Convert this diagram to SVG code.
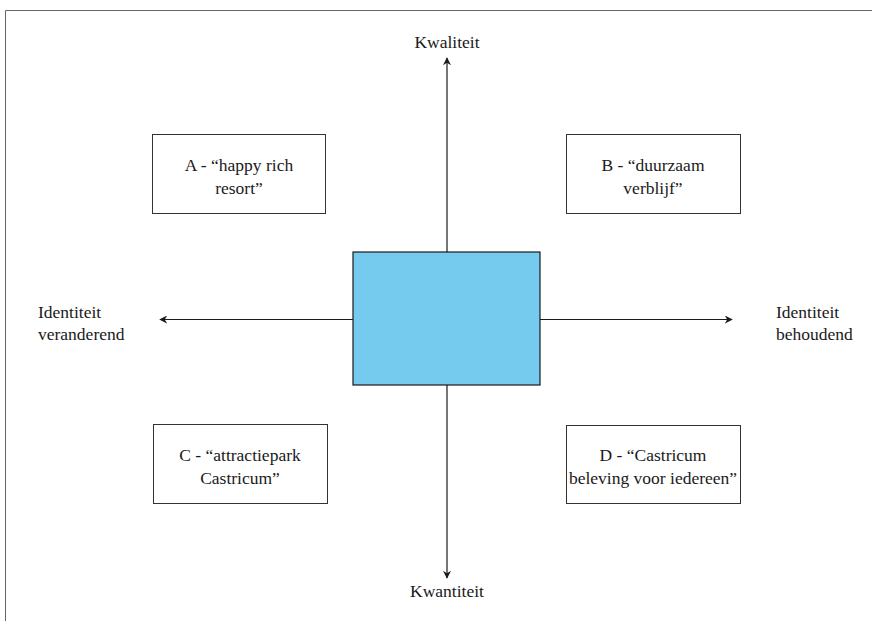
<svg xmlns="http://www.w3.org/2000/svg" width="872" height="621" viewBox="0 0 872 621">
<defs>
<marker id="ah" viewBox="0 0 10 10" refX="9" refY="5" markerWidth="8" markerHeight="8" markerUnits="userSpaceOnUse" orient="auto">
<path d="M0,0 L10,5 L0,10 L3,5 Z" fill="#1a1a1a"/>
</marker>
<style>
text{font-family:"Liberation Serif","DejaVu Serif",serif;font-size:17.5px;fill:#1a1a1a}
.box{fill:#fff;stroke:#333;stroke-width:1}
.ax{stroke:#1a1a1a;stroke-width:1.2;fill:none}
</style>
</defs>
<rect width="872" height="621" fill="#fff"/>
<path d="M5.5,621 V10.5 H872" fill="none" stroke="#666" stroke-width="1"/>
<g id="connectors">
<line class="ax" x1="447" y1="252" x2="447" y2="58" marker-end="url(#ah)"/>
<line class="ax" x1="447" y1="385" x2="447" y2="578" marker-end="url(#ah)"/>
<line class="ax" x1="353" y1="319.5" x2="160" y2="319.5" marker-end="url(#ah)"/>
<line class="ax" x1="540" y1="319.5" x2="732" y2="319.5" marker-end="url(#ah)"/>
</g>
<g id="center"><rect x="353" y="252" width="187" height="133" fill="#75cbee" stroke="#1a1a1a" stroke-width="1.2"/></g>
<g id="kwaliteit"><text x="447" y="48" text-anchor="middle">Kwaliteit</text></g>
<g id="kwantiteit"><text x="447" y="597" text-anchor="middle">Kwantiteit</text></g>
<g id="id-veranderend"><text x="38" y="318">Identiteit</text><text x="38" y="340">veranderend</text></g>
<g id="id-behoudend"><text x="776" y="318">Identiteit</text><text x="776" y="340">behoudend</text></g>
<g id="A"><rect class="box" x="152.5" y="134.5" width="173" height="79"/><text x="239" y="171" text-anchor="middle">A - “happy rich</text><text x="239" y="194" text-anchor="middle">resort”</text></g>
<g id="B"><rect class="box" x="566.5" y="134.5" width="174" height="79"/><text x="653" y="171" text-anchor="middle">B - “duurzaam</text><text x="653" y="194" text-anchor="middle">verblijf”</text></g>
<g id="C"><rect class="box" x="153.5" y="424.5" width="174" height="79"/><text x="240" y="461" text-anchor="middle">C - “attractiepark</text><text x="240" y="484" text-anchor="middle">Castricum”</text></g>
<g id="D"><rect class="box" x="566.5" y="425.5" width="174" height="78"/><text x="653" y="461" text-anchor="middle">D - “Castricum</text><text x="653" y="484" text-anchor="middle">beleving voor iedereen”</text></g>
</svg>
